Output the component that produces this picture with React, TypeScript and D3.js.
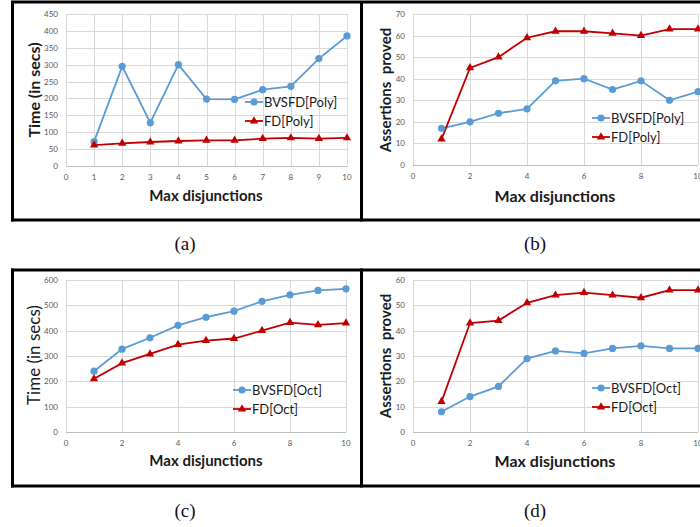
import React, { useEffect, useRef } from "react";
import * as d3 from "d3";

// max disjunctions (x values)
const disjunctions = [1, 2, 3, 4, 5, 6, 7, 8, 9, 10];

// (a) time, polyhedra
const polyTimeBvsfd = [72, 295, 128, 300, 198, 197, 226, 236, 318, 385];
const polyTimeFd = [62, 67, 71, 74, 76, 76, 81, 83, 81, 83];
// (b) assertions proved, polyhedra
const polyProvedBvsfd = [17, 20, 24, 26, 39, 40, 35, 39, 30, 34];
const polyProvedFd = [12, 45, 50, 59, 62, 62, 61, 60, 63, 63];
// (c) time, octagons
const octTimeBvsfd = [240, 327, 372, 421, 453, 477, 516, 541, 559, 565];
const octTimeFd = [210, 272, 308, 345, 361, 369, 400, 432, 423, 430];
// (d) assertions proved, octagons
const octProvedBvsfd = [8, 14, 18, 29, 32, 31, 33, 34, 33, 33];
const octProvedFd = [12, 43, 44, 51, 54, 55, 54, 53, 56, 56];

const yTicksA = [0, 50, 100, 150, 200, 250, 300, 350, 400, 450];
const yTicksB = [0, 10, 20, 30, 40, 50, 60, 70];
const yTicksC = [0, 100, 200, 300, 400, 500, 600];
const yTicksD = [0, 10, 20, 30, 40, 50, 60];
const xTicksEvery1 = [0, 1, 2, 3, 4, 5, 6, 7, 8, 9, 10];
const xTicksEvery2 = [0, 2, 4, 6, 8, 10];

const BLUE = "#5B9BD5";
const RED = "#C00000";

const panels = [
  {
    id: "a", x0: 66, x1: 347, y0: 166, y1: 14, ymax: 450, yTicks: yTicksA, xTicks: xTicksEvery1,
    blue: polyTimeBvsfd, red: polyTimeFd, names: ["BVSFD[Poly]", "FD[Poly]"],
    yTitle: "Time (in secs)", yBold: true, yTitleX: 34, yTitleY: 90, yFont: 16,
    xTitleX: 206, xTitleY: 201, xFont: 15,
    legX: 245, legY: 102, caption: "(a)", capX: 185, capY: 250,
  },
  {
    id: "b", x0: 413, x1: 698, y0: 165, y1: 14, ymax: 70, yTicks: yTicksB, xTicks: xTicksEvery2,
    blue: polyProvedBvsfd, red: polyProvedFd, names: ["BVSFD[Poly]", "FD[Poly]"],
    yTitle: "Assertions  proved", yBold: true, yTitleX: 386, yTitleY: 90, yFont: 15,
    xTitleX: 555, xTitleY: 202, xFont: 16,
    legX: 592, legY: 118, caption: "(b)", capX: 535, capY: 250,
  },
  {
    id: "c", x0: 66, x1: 346, y0: 432, y1: 280, ymax: 600, yTicks: yTicksC, xTicks: xTicksEvery2,
    blue: octTimeBvsfd, red: octTimeFd, names: ["BVSFD[Oct]", "FD[Oct]"],
    yTitle: "Time (in secs)", yBold: false, yTitleX: 34, yTitleY: 355, yFont: 17,
    xTitleX: 206, xTitleY: 466, xFont: 15,
    legX: 233, legY: 390, caption: "(c)", capX: 185, capY: 517,
  },
  {
    id: "d", x0: 413, x1: 698, y0: 432, y1: 280, ymax: 60, yTicks: yTicksD, xTicks: xTicksEvery2,
    blue: octProvedBvsfd, red: octProvedFd, names: ["BVSFD[Oct]", "FD[Oct]"],
    yTitle: "Assertions  proved", yBold: true, yTitleX: 386, yTitleY: 356, yFont: 15,
    xTitleX: 555, xTitleY: 467, xFont: 16,
    legX: 592, legY: 388, caption: "(d)", capX: 535, capY: 517,
  },
];

const App = () => {
  const svgRef = useRef<SVGSVGElement>(null);

  useEffect(() => {
    const svg = d3.select(svgRef.current);
    svg.selectAll("*").remove();

    panels.forEach((p) => {
      const g = svg.append("g");
      const x = d3.scaleLinear().domain([0, 10]).range([p.x0, p.x1]);
      const y = d3.scaleLinear().domain([0, p.ymax]).range([p.y0, p.y1]);

      // gridlines
      g.selectAll(".hg").data(p.yTicks).enter().append("line")
        .attr("x1", x(0)).attr("x2", x(10))
        .attr("y1", (d) => Math.round(y(d)) + 0.5).attr("y2", (d) => Math.round(y(d)) + 0.5)
        .attr("stroke", (d) => (d === 0 ? "#bfbfbf" : "#d9d9d9"));
      g.selectAll(".vg").data(p.xTicks).enter().append("line")
        .attr("x1", (d) => Math.round(x(d)) + 0.5).attr("x2", (d) => Math.round(x(d)) + 0.5)
        .attr("y1", y(p.ymax)).attr("y2", y(0))
        .attr("stroke", "#d9d9d9");

      // tick labels
      g.selectAll(".yt").data(p.yTicks).enter().append("text")
        .attr("x", x(0) - 8).attr("y", (d) => y(d) + 3)
        .attr("text-anchor", "end")
        .style("font-size", "8px").attr("font-family", "Lato")
        .attr("fill", "#595959")
        .text((d) => d);
      g.selectAll(".xt").data(p.xTicks).enter().append("text")
        .attr("x", (d) => x(d)).attr("y", y(0) + 14)
        .attr("text-anchor", "middle")
        .style("font-size", "8px").attr("font-family", "Lato")
        .attr("fill", "#595959")
        .text((d) => d);

      // series lines
      const line = d3.line<number>().x((d, i) => x(disjunctions[i])).y((d) => y(d));
      g.append("path").datum(p.blue).attr("d", line)
        .attr("fill", "none").attr("stroke", BLUE).attr("stroke-width", 1.8);
      g.append("path").datum(p.red).attr("d", line)
        .attr("fill", "none").attr("stroke", RED).attr("stroke-width", 1.8);

      // markers
      g.selectAll(".bm").data(p.blue).enter().append("circle")
        .attr("cx", (d, i) => x(disjunctions[i])).attr("cy", (d) => y(d))
        .attr("r", 3.6).attr("fill", BLUE);
      const tri = d3.symbol().type(d3.symbolTriangle).size(30);
      g.selectAll(".rm").data(p.red).enter().append("path")
        .attr("d", tri)
        .attr("transform", (d, i) => `translate(${x(disjunctions[i])},${y(d)})`)
        .attr("fill", RED);

      // legend
      const legGap = 19;
      [0, 1].forEach((k) => {
        const ly = p.legY + k * legGap;
        g.append("line")
          .attr("x1", p.legX).attr("x2", p.legX + 18)
          .attr("y1", ly).attr("y2", ly)
          .attr("stroke", k === 0 ? BLUE : RED).attr("stroke-width", 1.8);
        if (k === 0) {
          g.append("circle").attr("cx", p.legX + 9).attr("cy", ly).attr("r", 3.6).attr("fill", BLUE);
        } else {
          g.append("path").attr("d", tri).attr("transform", `translate(${p.legX + 9},${ly})`).attr("fill", RED);
        }
        g.append("text")
          .attr("x", p.legX + 19).attr("y", ly + 4.5)
          .style("font-size", "13px").attr("font-family", "Lato")
          .attr("fill", "#1a1a1a")
          .text(p.names[k]);
      });

      // axis titles
      g.append("text")
        .attr("x", p.xTitleX).attr("y", p.xTitleY)
        .attr("text-anchor", "middle")
        .style("font-size", `${p.xFont}px`).attr("font-family", "Lato")
        .style("font-weight", "bold").attr("fill", "#1a1a1a")
        .text("Max disjunctions");
      g.append("text")
        .attr("transform", `translate(${p.yTitleX},${p.yTitleY}) rotate(-90)`)
        .attr("text-anchor", "middle").attr("dy", "0.35em")
        .style("font-size", `${p.yFont}px`).attr("font-family", "Lato")
        .style("font-weight", p.yBold ? "bold" : "normal").attr("fill", "#1a1a1a")
        .style("white-space", "pre")
        .text(p.yTitle);

      // caption
      svg.append("text")
        .attr("x", p.capX).attr("y", p.capY)
        .attr("text-anchor", "middle")
        .style("font-size", "19px").attr("font-family", "Liberation Serif")
        .attr("fill", "#111")
        .text(p.caption);
    });

    // frames
    const frames = [
      [11, 2, 700, 2], [11, 220, 700, 220], [12.5, 1, 12.5, 221.5], [361.5, 1, 361.5, 221.5],
      [11, 270, 700, 270], [11, 486, 700, 486], [12.5, 268.5, 12.5, 487.5], [361.5, 268.5, 361.5, 487.5],
    ];
    svg.selectAll(".frame").data(frames).enter().append("line")
      .attr("x1", (d) => d[0]).attr("y1", (d) => d[1])
      .attr("x2", (d) => d[2]).attr("y2", (d) => d[3])
      .attr("stroke", "#000").attr("stroke-width", 3);

    return () => {
      svg.selectAll("*").remove();
    };
  }, []);

  return (
    <svg
      ref={svgRef}
      width={700}
      height={527}
      style={{ position: "absolute", left: 0, top: 0, background: "#fff" }}
    ></svg>
  );
};

export default App;
